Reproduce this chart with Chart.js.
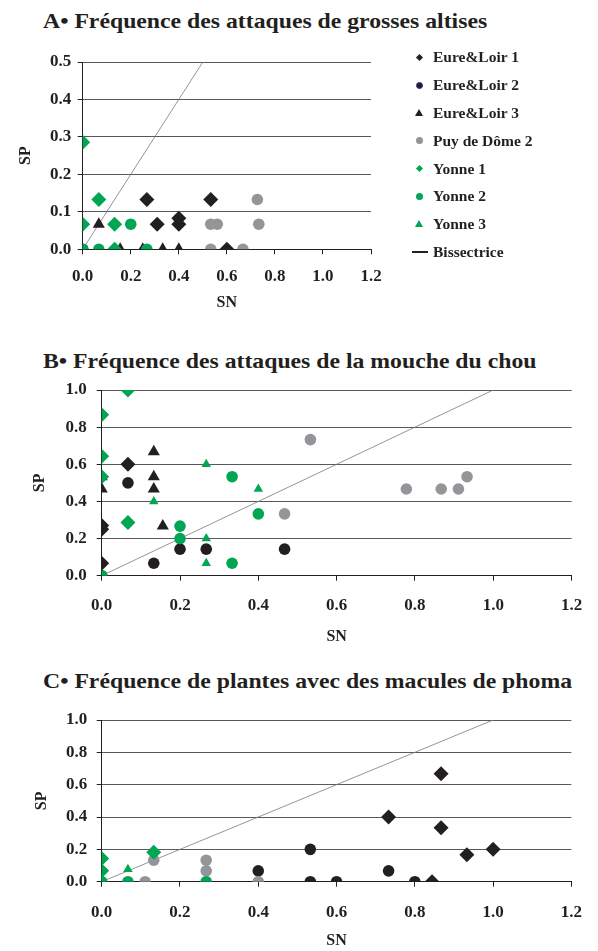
<!DOCTYPE html>
<html>
<head>
<meta charset="utf-8">
<script src="https://cdn.jsdelivr.net/npm/chart.js@4.4.1/dist/chart.umd.min.js"></script>
<style>
  body { margin: 0; background: #fff; width: 598px; height: 951px; position: relative; overflow: hidden;
         font-family: "Liberation Serif", serif; color: #231f20; }
  canvas { position: absolute; left: 0; }
  .title { position: absolute; left: 43px; font-weight: bold; font-size: 21px; line-height: 22px;
           white-space: nowrap; transform-origin: 0 50%; transform: scaleX(1.13); }
  .row { position: absolute; left: 0; height: 20px; line-height: 20px; font-size: 15.5px; font-weight: bold; white-space: nowrap; }
  .row span.txt { position: absolute; left: 433px; }
  .mk { position: absolute; }
</style>
</head>
<body>
<div class="title" style="top:10px">A• Fréquence des attaques de grosses altises</div>
<div class="title" style="top:350px">B• Fréquence des attaques de la mouche du chou</div>
<div class="title" style="top:670px">C• Fréquence de plantes avec des macules de phoma</div>
<canvas id="chartA" width="598" height="320" style="top:0"></canvas>
<canvas id="chartB" width="598" height="320" style="top:330px"></canvas>
<canvas id="chartC" width="598" height="296" style="top:655px"></canvas>
<div id="legendA"></div>
<script>
const seriesNames = ["Eure&Loir 1", "Eure&Loir 2", "Eure&Loir 3", "Puy de Dôme 2", "Yonne 1", "Yonne 2", "Yonne 3"];
const lineName = "Bissectrice";
const xTicks = [0, 0.2, 0.4, 0.6, 0.8, 1.0, 1.2];
const yTicksA = [0, 0.1, 0.2, 0.3, 0.4, 0.5];
const yTicksBC = [0, 0.2, 0.4, 0.6, 0.8, 1.0];

// A - grosses altises  [SN, SP]
const aEureLoir1 = [[0.267, 0.133], [0.533, 0.133], [0.31, 0.067], [0.4, 0.083], [0.4, 0.067], [0.6, 0]];
const aEureLoir2 = [[0, 0]];
const aEureLoir3 = [[0.067, 0.067], [0.133, 0], [0.156, 0], [0.25, 0], [0.333, 0], [0.4, 0]];
const aPuyDeDome2 = [[0.727, 0.133], [0.533, 0.067], [0.56, 0.067], [0.733, 0.067], [0.533, 0], [0.667, 0]];
const aYonne1 = [[0, 0.286], [0.067, 0.133], [0, 0.067], [0.133, 0.067], [0.133, 0]];
const aYonne2 = [[0, 0], [0.067, 0], [0.2, 0.067], [0.267, 0]];
const aYonne3 = [[0, 0]];

// B - mouche du chou
const bEureLoir1 = [[0.067, 0.6], [0, 0.27], [0, 0.25], [0, 0.067]];
const bEureLoir2 = [[0.067, 0.5], [0.133, 0.067], [0.2, 0.143], [0.267, 0.143], [0.467, 0.143], [0, 0]];
const bEureLoir3 = [[0, 0.533], [0, 0.467], [0.133, 0.667], [0.133, 0.533], [0.133, 0.467], [0.156, 0.267]];
const bPuyDeDome2 = [[0.467, 0.333], [0.533, 0.733], [0.778, 0.467], [0.867, 0.467], [0.911, 0.467], [0.933, 0.533]];
const bYonne1 = [[0.067, 1.0], [0, 0.867], [0, 0.643], [0, 0.533], [0.067, 0.286]];
const bYonne2 = [[0.333, 0.533], [0.2, 0.267], [0.2, 0.2], [0.4, 0.333], [0.333, 0.067], [0, 0]];
const bYonne3 = [[0.133, 0.4], [0.267, 0.6], [0.4, 0.467], [0.267, 0.2], [0.267, 0.067]];

// C - macules de phoma
const cEureLoir1 = [[0.867, 0.667], [0.733, 0.4], [0.867, 0.333], [0.933, 0.167], [1.0, 0.2], [0.844, 0]];
const cEureLoir2 = [[0.4, 0.067], [0.533, 0.2], [0.533, 0], [0.6, 0], [0.733, 0.067], [0.8, 0]];
const cEureLoir3 = [[0, 0], [0.4, 0]];
const cPuyDeDome2 = [[0.111, 0], [0.133, 0.133], [0.267, 0.133], [0.267, 0.067], [0.4, 0]];
const cYonne1 = [[0, 0.143], [0, 0.067], [0.133, 0.182]];
const cYonne2 = [[0, 0], [0.067, 0], [0.267, 0]];
const cYonne3 = [[0.067, 0.077], [0, 0.02]];

const bisector = [[0, 0], [1.2, 1.2]];

const INK = "#231f20", GREEN = "#00a651", GREY = "#939598", GRID = "#58595b";
const looks = [
  { style: "rectRot", color: INK, r: 7.5 },
  { style: "circle", color: INK, legendBorder: "#2e3192", r: 5.8 },
  { style: "triangle", color: INK, r: 7 },
  { style: "circle", color: GREY, r: 5.8 },
  { style: "rectRot", color: GREEN, r: 7.5 },
  { style: "circle", color: GREEN, r: 5.8 },
  { style: "triangle", color: GREEN, r: 5.5 },
];

Chart.defaults.font.family = "'Liberation Serif', serif";
Chart.defaults.color = INK;

const pts = arr => arr.map(([x, y]) => ({ x, y }));

function makeChart(id, series, yTicks, g) {
  const datasets = series.map((s, i) => ({
    label: seriesNames[i],
    data: pts(s),
    pointStyle: looks[i].style,
    pointRadius: looks[i].r,
    backgroundColor: looks[i].color,
    borderColor: looks[i].color,
    borderWidth: 0,
    order: 10 - i,
  }));
  datasets.push({
    type: "line",
    label: lineName,
    data: pts(bisector),
    borderColor: "#7a7a7a",
    borderWidth: 0.8,
    pointRadius: 0,
    pointStyle: "line",
    order: 20,
  });
  const tickFont = { size: 17, weight: "bold" };
  return new Chart(document.getElementById(id), {
    type: "scatter",
    data: { datasets },
    options: {
      responsive: false,
      animation: false,
      layout: { padding: { top: g.padTop, right: g.padRight, bottom: g.padBottom, left: 0 } },
      plugins: { legend: { display: false }, tooltip: { enabled: false } },
      scales: {
        x: {
          type: "linear", min: 0, max: 1.2,
          afterBuildTicks: s => { s.ticks = xTicks.map(v => ({ value: v })); },
          afterFit: s => { s.height = g.xHeight; },
          ticks: { font: tickFont, padding: g.xPad, callback: v => v.toFixed(1) },
          grid: { drawOnChartArea: false, tickLength: 5, tickColor: INK },
          border: { color: INK, width: 1 },
          title: { display: true, text: "SN", font: { size: 16, weight: "bold" }, padding: 0 },
        },
        y: {
          type: "linear", min: 0, max: yTicks[yTicks.length - 1],
          afterBuildTicks: s => { s.ticks = yTicks.map(v => ({ value: v })); },
          afterFit: s => { s.width = g.yWidth; },
          ticks: { font: tickFont, padding: g.yPad, callback: v => v.toFixed(1) },
          grid: { color: GRID, lineWidth: 1, tickLength: 5, tickColor: INK },
          border: { color: INK, width: 1 },
          title: { display: true, text: "SP", font: { size: 16, weight: "bold" }, padding: { top: g.spPad, bottom: 0 } },
        },
      },
    },
  });
}

const chartA = makeChart("chartA",
  [aEureLoir1, aEureLoir2, aEureLoir3, aPuyDeDome2, aYonne1, aYonne2, aYonne3], yTicksA,
  { padTop: 62, padRight: 227, padBottom: 7.7, xHeight: 63, yWidth: 82.7, xPad: 12, yPad: 6.5, spPad: 16 });
const chartB = makeChart("chartB",
  [bEureLoir1, bEureLoir2, bEureLoir3, bPuyDeDome2, bYonne1, bYonne2, bYonne3], yTicksBC,
  { padTop: 60, padRight: 26.4, padBottom: 3.8, xHeight: 70.5, yWidth: 101.7, xPad: 15, yPad: 10, spPad: 30 });
const chartC = makeChart("chartC",
  [cEureLoir1, cEureLoir2, cEureLoir3, cPuyDeDome2, cYonne1, cYonne2, cYonne3], yTicksBC,
  { padTop: 65, padRight: 26.4, padBottom: 0.8, xHeight: 68.5, yWidth: 101.7, xPad: 16, yPad: 9.5, spPad: 32 });

// legend for A, built from its datasets
const legendBox = document.getElementById("legendA");
chartA.data.datasets.forEach((ds, i) => {
  const row = document.createElement("div");
  row.className = "row";
  row.style.top = (57.3 + i * 27.8 - 10) + "px";
  const mk = document.createElement("span");
  mk.className = "mk";
  const c = ds.backgroundColor;
  const edge = looks[i] && looks[i].legendBorder;
  if (ds.pointStyle === "rectRot") {
    Object.assign(mk.style, { left: "416.5px", top: "7.5px", width: "5px", height: "5px", background: c, transform: "rotate(45deg)" });
  } else if (ds.pointStyle === "circle") {
    Object.assign(mk.style, { left: "415.5px", top: "6.5px", width: "7px", height: "7px", background: c, borderRadius: "50%",
      boxSizing: "border-box", border: edge ? "1px solid " + edge : "none" });
  } else if (ds.pointStyle === "triangle") {
    Object.assign(mk.style, { left: "415px", top: "6px", width: "8px", height: "7px", background: c,
      clipPath: "polygon(50% 0, 100% 100%, 0 100%)" });
  } else {
    Object.assign(mk.style, { left: "412px", top: "9px", width: "16px", height: "2px", background: INK });
  }
  const txt = document.createElement("span");
  txt.className = "txt";
  txt.textContent = ds.label;
  row.appendChild(mk);
  row.appendChild(txt);
  legendBox.appendChild(row);
});
</script>
</body>
</html>
